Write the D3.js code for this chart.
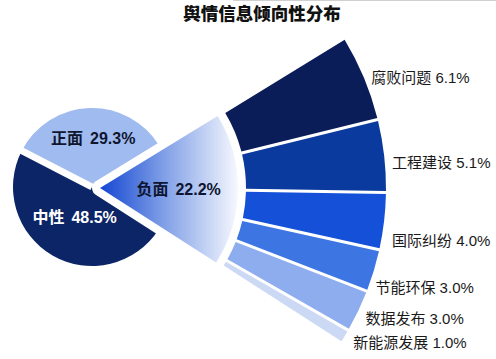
<!DOCTYPE html>
<html><head><meta charset="utf-8">
<script src="https://cdn.jsdelivr.net/npm/d3@7"></script>
<style>body{margin:0;background:#fff}svg{display:block}text{font-family:"Liberation Sans","Noto Sans CJK SC",sans-serif}</style>
</head><body><svg id="c" width="496" height="359"></svg>
<script>
const title = "舆情信息倾向性分布";
const pieCategories = ["正面", "中性", "负面"];
const pieValues = [29.3, 48.5, 22.2];
const negCategories = ["腐败问题", "工程建设", "国际纠纷", "节能环保", "数据发布", "新能源发展"];
const negValues = [6.1, 5.1, 4.0, 3.0, 3.0, 1.0];

const svg = d3.select("#c");
const deg = Math.PI / 180;
// layout constants
const C = [92, 187], R = 79;           // main pie
const C2 = [100, 188], Rneg = 138;     // exploded negative slice
const fanInner = 146, fanOuter = 286;
const fanStart = 58.5 * deg, fanEnd = 122.7 * deg;
const fanColors = ["#0a1d58", "#0b3a9e", "#1551d8", "#3d75e2", "#8eadee", "#ccd9f5"];
const pieColors = {"正面": "#a0bbef", "中性": "#0c2566"};
const labelNudge = [[0, 3], [0, 8], [0, 18], [-6, 15], [0, 4], [2, 2]];

// faint frame line at top (from screenshot)
svg.append("line").attr("x1", 233).attr("x2", 496).attr("y1", 0.5).attr("y2", 0.5)
  .attr("stroke", "#d0d0d0").attr("stroke-width", 1);

// title
svg.append("text").attr("x", 262).attr("y", 12).attr("text-anchor", "middle")
  .attr("dominant-baseline", "central").attr("font-size", 17.5).attr("font-weight", 900)
  .style("font-family", '"Noto Sans CJK SC",sans-serif')
  .attr("fill", "#111").text(title);

const pt = (r, a) => [r * Math.sin(a), -r * Math.cos(a)];

// main pie angles: 负面 occupies the fan span, 中性 proportional, 正面 the rest
const negIdx = pieCategories.indexOf("负面");
const neuIdx = pieCategories.indexOf("中性");
const posIdx = pieCategories.indexOf("正面");
const neuStart = fanEnd, neuEnd = fanEnd + pieValues[neuIdx] / 100 * 2 * Math.PI;
const posStart = neuEnd, posEnd = fanStart + 2 * Math.PI;

const g = svg.append("g").attr("transform", `translate(${C})`);
const arc0 = d3.arc().innerRadius(0).outerRadius(R);
g.append("path").attr("d", arc0({startAngle: neuStart, endAngle: neuEnd})).attr("fill", pieColors["中性"]);
g.append("path").attr("d", arc0({startAngle: posStart, endAngle: posEnd})).attr("fill", pieColors["正面"]);
const sep = pt(R + 6, neuEnd);
g.append("line").attr("x1", 0).attr("y1", 0).attr("x2", sep[0]).attr("y2", sep[1])
  .attr("stroke", "#fff").attr("stroke-width", 7);

// labels main pie
function pieLabel(gr, cx, cy, cat, val, color) {
  const t = gr.append("text").attr("x", cx).attr("y", cy).attr("text-anchor", "middle")
    .attr("dominant-baseline", "central").attr("font-size", 16).attr("font-weight", 700).attr("fill", color);
  t.append("tspan").text(cat);
  t.append("tspan").attr("dx", 7).text(val.toFixed(1) + "%");
}
const posMid = (posStart + posEnd) / 2, neuMid = (neuStart + neuEnd) / 2;
let p = pt(R * 0.62, posMid);
pieLabel(g, p[0] + 3, p[1], pieCategories[posIdx], pieValues[posIdx], "#0f1630");
p = pt(R * 0.44, neuMid);
pieLabel(g, p[0], p[1], pieCategories[neuIdx], pieValues[neuIdx], "#fff");

// gradient for negative slice
const defs = svg.append("defs");
const grad = defs.append("linearGradient").attr("id", "negGrad").attr("gradientUnits", "userSpaceOnUse")
  .attr("x1", 0).attr("y1", 0).attr("x2", Rneg).attr("y2", 0);
grad.append("stop").attr("offset", 0).attr("stop-color", "#1446d2");
grad.append("stop").attr("offset", 0.45).attr("stop-color", "#7d9de6");
grad.append("stop").attr("offset", 1).attr("stop-color", "#f6f8fe");

const gn = svg.append("g").attr("transform", `translate(${C2})`);
const negArc = d3.arc().innerRadius(0).outerRadius(Rneg)({startAngle: fanStart, endAngle: fanEnd});
gn.append("path").attr("d", negArc).attr("fill", "#fff").attr("stroke", "#fff")
  .attr("stroke-width", 16).attr("stroke-linejoin", "round");
gn.append("path").attr("d", negArc).attr("fill", "url(#negGrad)");
p = pt(Rneg * 0.57, (fanStart + fanEnd) / 2);
pieLabel(gn, p[0], p[1], pieCategories[negIdx], pieValues[negIdx], "#0d1530");

// fan of negative breakdown
const angle = d3.scaleLinear().domain([0, d3.sum(negValues)]).range([fanStart, fanEnd]);
const cum = d3.cumsum(negValues);
const fanArc = d3.arc().innerRadius(fanInner).outerRadius(fanOuter).padAngle(0.03).padRadius(100);
const gf = svg.append("g").attr("transform", `translate(${C2})`);
negValues.forEach((v, i) => {
  const a0 = angle(cum[i] - v), a1 = angle(cum[i]);
  gf.append("path").attr("d", fanArc({startAngle: a0, endAngle: a1})).attr("fill", fanColors[i]);
  const lp = pt(fanOuter + 8, (a0 + a1) / 2);
  gf.append("text").attr("x", lp[0] + labelNudge[i][0]).attr("y", lp[1] + labelNudge[i][1])
    .attr("dominant-baseline", "central").attr("font-size", 15).attr("fill", "#1a1a1a")
    .text(`${negCategories[i]} ${v.toFixed(1)}%`);
});
</script></body></html>
